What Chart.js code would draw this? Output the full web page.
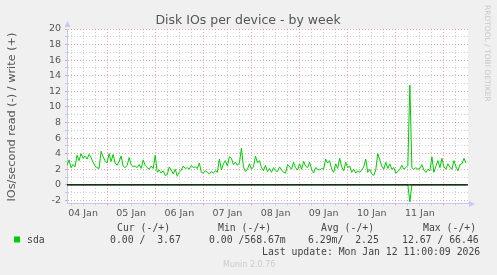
<!DOCTYPE html>
<html lang="en">
<head>
    <meta charset="UTF-8">
    <title>Disk IOs per device - by week</title>
    <script src="https://cdn.jsdelivr.net/npm/chart.js"></script>
    <style>
        body {
            margin: 0;
            background: #f0f0f0;
        }
        canvas {
            display: block;
        }
    </style>
</head>
<body>
    <canvas id="diskChart" width="497" height="275"></canvas>

    <script>
        // hours counted from 04 Jan 00:00, one sample per hour
        const startHour = 4;
        const endHour = 204;

        // sda write IOs/s (+)
        const writeValues = [
            2.5, 3.2, 2.2, 2.6, 2.3, 3.8, 3.1, 4.0, 3.4, 3.7,
            3.3, 3.9, 3.5, 2.9, 2.4, 2.2, 2.1, 4.3, 3.6, 3.1,
            2.8, 4.0, 3.0, 3.9, 2.8, 2.5, 3.0, 3.7, 2.4, 2.2,
            2.5, 3.5, 2.6, 2.3, 2.4, 2.2, 2.6, 2.1, 3.2, 2.5,
            2.2, 2.0, 2.4, 2.1, 3.8, 1.6, 1.9, 1.5, 1.8, 1.2,
            1.3, 2.3, 1.9, 1.4, 2.0, 1.1, 1.6, 1.9, 2.4, 2.1,
            2.2, 2.0, 2.5, 2.2, 2.3, 2.1, 2.8, 1.6, 1.5, 1.8,
            1.6, 1.4, 1.7, 1.5, 1.8, 1.6, 3.3, 1.9, 2.7, 3.1,
            2.4, 3.6, 3.4, 2.6, 2.9, 2.5, 2.8, 4.7, 2.3, 1.7,
            2.0, 2.7, 2.0, 2.3, 3.7, 2.8, 3.1, 2.2, 1.8, 2.5,
            1.7, 2.1, 1.6, 2.2, 1.8, 1.7, 2.3, 1.9, 1.6, 1.5,
            2.6, 2.3, 2.0, 2.9, 2.2, 1.9, 2.7, 2.0, 3.0, 2.4,
            2.2, 2.9, 2.0, 1.5, 2.2, 2.0, 1.9, 2.1, 2.0, 3.3,
            2.8, 3.1, 2.0, 1.6, 2.7, 2.1, 3.4, 2.3, 1.8, 2.9,
            2.2, 2.4, 1.6, 2.0, 1.5, 1.8, 1.6, 1.9, 2.3, 3.3,
            1.6, 2.0, 1.4, 1.2, 1.9, 4.0, 3.2, 2.4, 2.0, 2.9,
            2.1, 2.7, 2.0, 2.2, 1.5, 1.7, 2.0, 2.5, 2.0, 2.2,
            2.5, 12.8, 2.2, 2.0, 2.2, 2.0, 2.1, 2.6, 1.9, 1.6,
            2.0, 1.8, 3.6, 1.6, 2.4, 3.1, 2.2, 3.4, 2.3, 2.0,
            2.7, 2.2, 2.0, 3.1, 2.3, 1.8, 2.6, 2.7, 3.4, 2.8
        ];

        // sda read IOs/s (-), zero apart from one burst
        const readHours = [4, 174, 175, 176, 203];
        const readValues = [0, 0, -2.2, 0, 0];

        const dayLabels = ['04 Jan', '05 Jan', '06 Jan', '07 Jan', '08 Jan', '09 Jan', '10 Jan', '11 Jan'];
        const yMin = -2.4;
        const yMax = 20;

        const legendName = 'sda';
        const legendHeaders = ['Cur (-/+)', 'Min (-/+)', 'Avg (-/+)', 'Max (-/+)'];
        const legendValues = ['0.00 /  3.67', '0.00 /568.67m', '6.29m/  2.25', '12.67 / 66.46'];
        const lastUpdate = 'Last update: Mon Jan 12 11:00:09 2026';

        const green = '#00cc00';
        const majorGrid = 'rgba(235, 130, 130, 0.7)';
        const minorGrid = 'rgba(190, 190, 190, 0.7)';
        const axisBlue = '#c4c8f4';

        const writePoints = writeValues.map((v, i) => ({ x: startHour + i, y: v }));
        const readPoints = readValues.map((v, i) => ({ x: readHours[i], y: v }));

        const xGridHours = [];
        for (let h = 6; h < endHour; h += 6) xGridHours.push(h);
        const yGridValues = [];
        for (let v = -2; v <= yMax; v++) yGridValues.push(v);

        // munin style decorations: background, arrows, title, legend
        const muninDecor = {
            id: 'muninDecor',
            beforeDraw(chart) {
                const c = chart.ctx;
                const a = chart.chartArea;
                c.save();
                c.fillStyle = '#f0f0f0';
                c.fillRect(0, 0, chart.width, chart.height);
                c.fillStyle = '#ffffff';
                c.fillRect(a.left, a.top, a.right - a.left, a.bottom - a.top);
                c.restore();
            },
            afterDraw(chart) {
                const c = chart.ctx;
                const a = chart.chartArea;
                c.save();

                // axis arrows
                c.fillStyle = axisBlue;
                c.beginPath();
                c.moveTo(a.left + 0.5, a.top - 8);
                c.lineTo(a.left - 2.5, a.top - 2);
                c.lineTo(a.left + 3.5, a.top - 2);
                c.closePath();
                c.fill();
                c.beginPath();
                c.moveTo(a.right + 7, a.bottom + 0.5);
                c.lineTo(a.right + 1, a.bottom - 2.5);
                c.lineTo(a.right + 1, a.bottom + 3.5);
                c.closePath();
                c.fill();

                // title
                c.fillStyle = '#555555';
                c.font = '12.5px "DejaVu Sans"';
                c.textAlign = 'center';
                c.textBaseline = 'alphabetic';
                c.fillText('Disk IOs per device - by week', 248, 24);

                // y axis title
                c.save();
                c.translate(15, 117);
                c.rotate(-Math.PI / 2);
                c.font = '11.3px "DejaVu Sans"';
                c.fillText('IOs/second read (-) / write (+)', 0, 0);
                c.restore();

                // rrdtool credit
                c.save();
                c.translate(485, 5);
                c.rotate(Math.PI / 2);
                c.fillStyle = '#c8c8c8';
                c.font = '7.5px "DejaVu Sans"';
                c.textAlign = 'left';
                c.fillText('RRDTOOL / TOBI OETIKER', 0, 0);
                c.restore();

                // legend
                c.fillStyle = green;
                c.fillRect(14, 236.5, 6, 6);
                c.fillStyle = '#444444';
                c.font = '9.8px "DejaVu Sans Mono"';
                c.textAlign = 'left';
                c.fillText(legendName, 27, 243);
                const headerX = [117, 218, 321, 423];
                const valueX = [110, 209, 308, 402];
                legendHeaders.forEach((t, i) => c.fillText(t, headerX[i], 231));
                legendValues.forEach((t, i) => c.fillText(t, valueX[i], 243));
                c.fillText(lastUpdate, 262, 254.5);

                c.fillStyle = '#cccccc';
                c.font = '8px "DejaVu Sans"';
                c.fillText('Munin 2.0.76', 223, 267);
                c.restore();
            }
        };

        const ctx = document.getElementById('diskChart').getContext('2d');
        const diskChart = new Chart(ctx, {
            type: 'line',
            data: {
                datasets: [
                    {
                        label: 'sda read',
                        data: readPoints,
                        borderColor: green,
                        borderWidth: 1,
                        pointRadius: 0,
                        tension: 0,
                        order: 2
                    },
                    {
                        label: 'zero',
                        data: [{ x: startHour, y: 0 }, { x: endHour, y: 0 }],
                        borderColor: '#000000',
                        borderWidth: 1.3,
                        pointRadius: 0,
                        order: 0
                    },
                    {
                        label: 'sda write',
                        data: writePoints,
                        borderColor: green,
                        borderWidth: 1,
                        pointRadius: 0,
                        tension: 0,
                        order: 1
                    }
                ]
            },
            options: {
                responsive: false,
                animation: false,
                layout: { padding: { left: 0, top: 29, right: 29, bottom: 0 } },
                plugins: {
                    legend: { display: false },
                    tooltip: { enabled: false },
                    title: { display: false }
                },
                scales: {
                    x: {
                        type: 'linear',
                        min: startHour,
                        max: endHour,
                        afterFit: (s) => { s.height = 71.5; },
                        afterBuildTicks: (s) => { s.ticks = xGridHours.map(v => ({ value: v })); },
                        grid: {
                            color: (c) => (c.tick && c.tick.value % 24 === 0) ? majorGrid : minorGrid,
                            lineWidth: 1,
                            tickLength: 2
                        },
                        border: { display: true, color: axisBlue, width: 1, dash: [1, 2] },
                        ticks: {
                            autoSkip: false,
                            maxRotation: 0,
                            padding: 2,
                            color: '#555555',
                            font: { family: 'DejaVu Sans', size: 9.5 },
                            callback: (v) => (v % 24 === 12) ? dayLabels[(v - 12) / 24] : ''
                        }
                    },
                    y: {
                        type: 'linear',
                        min: yMin,
                        max: yMax,
                        afterFit: (s) => { s.width = 67; },
                        afterBuildTicks: (s) => { s.ticks = yGridValues.map(v => ({ value: v })); },
                        grid: {
                            color: (c) => (c.tick && c.tick.value % 2 === 0) ? majorGrid : minorGrid,
                            lineWidth: 1,
                            tickLength: 2
                        },
                        border: { display: true, color: axisBlue, width: 1, dash: [1, 2] },
                        ticks: {
                            autoSkip: false,
                            padding: 4,
                            color: '#555555',
                            font: { family: 'DejaVu Sans', size: 9.5 },
                            callback: (v) => (v % 2 === 0) ? String(v) : ''
                        }
                    }
                }
            },
            plugins: [muninDecor]
        });
    </script>
</body>
</html>
